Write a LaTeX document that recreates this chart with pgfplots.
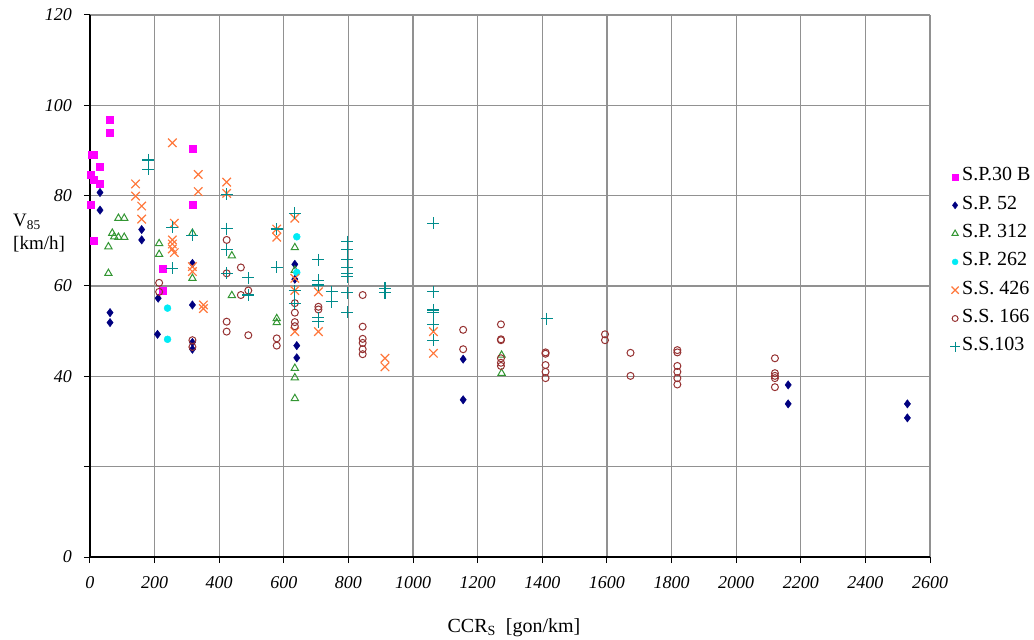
\documentclass[border=0pt]{standalone}
\usepackage{fontspec}
\setmainfont{Liberation Serif}
\usepackage{pgfplots}
\pgfplotsset{compat=1.18}

\definecolor{cMag}{RGB}{255,0,255}
\definecolor{cNavy}{RGB}{0,0,128}
\definecolor{cGreen}{RGB}{51,150,51}
\definecolor{cCyan}{RGB}{0,235,245}
\definecolor{cOrange}{RGB}{255,120,60}
\definecolor{cBrown}{RGB}{150,50,50}
\definecolor{cTeal}{RGB}{0,140,140}
\definecolor{gridgray}{RGB}{145,145,145}

\begin{document}
\begin{tikzpicture}
\useasboundingbox (-90pt,-83pt) rectangle (944pt,557pt);
\begin{axis}[
  at={(0,0)}, anchor=south west,
  scale only axis, width=840pt, height=542pt,
  xmin=0, xmax=2600, ymin=0, ymax=120,
  xtick={0,200,...,2600}, ytick={0,20,...,120},
  yticklabels={0,,40,60,80,100,120},
  grid=major, major grid style={draw=gridgray, line width=1.2pt},
  axis x line=bottom, axis y line=left,
  axis line style={-, black, line width=1.4pt},
  tick align=outside, major tick length=6pt,
  tick style={black, line width=1pt},
  /pgf/number format/assume math mode=true,
  /pgf/number format/1000 sep={},
  xticklabel style={font=\fontsize{18}{20}\selectfont\itshape, inner sep=0pt, yshift=-13pt},
  yticklabel style={font=\fontsize{18}{20}\selectfont\itshape, inner sep=0pt, xshift=-12pt},
  xlabel={CCR\textsubscript{S}\ \ [gon/km]},
  every axis x label/.style={at={(axis description cs:0.5,0)}, anchor=center, yshift=-71pt, xshift=4pt,
    font=\fontsize{20}{22}\selectfont},
  ylabel={V\textsubscript{85}\\{[km/h]}},
  every axis y label/.style={at={(axis description cs:0,0.597)}, anchor=west, xshift=-77pt,
    align=left, inner sep=0pt, font=\fontsize{19}{23}\selectfont},
  legend cell align=left,
  legend style={at={(axis description cs:1,1)}, anchor=north west, xshift=20pt, yshift=-154pt,
    draw=none, fill=none, inner sep=0pt, outer sep=0pt, row sep=12.3pt, column sep=2pt,
    font=\fontsize{20}{22}\selectfont,
    nodes={inner sep=0pt, text height=12pt, text depth=4pt}},
  legend image code/.code={\path[draw=none, fill=none] (-5pt,-6pt) rectangle (5pt,6pt);
    \draw[#1, every mark/.append style={scale=0.85}] plot coordinates {(0pt,0pt)};},
]
% S.P.30 B
\addplot[only marks, mark=square*, mark size=3.5pt, mark options={fill=cMag, draw=cMag}] coordinates {
(62,96.9)(62,93.9)(5,89)(12,89)(31,86.4)(3,84.7)(10,83.6)(31,82.6)(3,78.1)(10,70.0)
(317,90.3)(317,78.1)(225,63.9)(225,58.9)};
\addlegendentry{S.P.30 B}
% S.P. 52
\addplot[only marks, mark=diamond*, mark size=4.2pt, mark options={fill=cNavy, draw=cNavy}] coordinates {
(31,80.7)(31,76.8)(160,72.5)(160,70.2)(317,65.0)(211,57.3)(317,55.8)(62,54.1)(62,51.9)
(209,49.3)(317,47.5)(317,46.0)(634,64.8)(634,61.5)(640,46.8)(640,44.1)(1155,43.8)(1155,34.8)
(2161,38.1)(2161,33.9)(2530,33.9)(2530,30.8)};
\addlegendentry{S.P. 52}
% S.P. 312
\addplot[only marks, mark=triangle, mark size=4.2pt, mark options={draw=cGreen, line width=1pt}] coordinates {
(88,75.0)(106,75.0)(69,71.7)(75,70.9)(88,70.8)(106,70.8)(57,68.7)(57,62.8)(214,69.4)(214,67.0)
(317,71.7)(317,61.7)(439,66.7)(439,57.9)(578,52.8)(578,51.9)(634,68.5)(634,63.5)(634,41.8)
(634,39.7)(634,35.1)(1274,44.7)(1274,40.7)};
\addlegendentry{S.P. 312}
% S.P. 262
\addplot[only marks, mark=*, mark size=3.5pt, mark options={fill=cCyan, draw=cCyan}] coordinates {
(240,55.1)(240,48.2)(640,70.9)(640,63.0)};
\addlegendentry{S.P. 262}
% S.S. 426
\addplot[only marks, mark=x, mark size=6pt, mark options={draw=cOrange, line width=1.2pt}] coordinates {
(255,91.7)(335,84.7)(335,80.9)(141,82.6)(141,79.9)(160,77.7)(160,74.8)(261,73.9)(255,70.2)
(255,69.3)(261,67.4)(255,68.2)(317,64.3)(317,63.2)(351,55.8)(351,55.0)(423,83.0)(423,80.5)
(578,72.6)(578,70.8)(634,75.0)(634,61.7)(634,59.0)(634,49.9)(707,58.7)(707,49.9)(913,44.0)
(913,42.1)(1063,49.9)(1063,45.1)};
\addlegendentry{S.S. 426}
% S.S. 166
\addplot[only marks, mark=o, mark size=3.5pt, mark options={draw=cBrown, line width=1pt}] coordinates {
(214,60.7)(214,58.7)(317,48.0)(317,46.5)(423,70.2)(423,62.8)(423,52.1)(423,49.9)(467,64.1)
(467,58.0)(490,59.0)(490,49.1)(578,48.4)(578,46.8)(634,56.2)(634,54.1)(634,52.0)(634,51.1)
(707,55.4)(707,54.8)(844,58.0)(844,51.0)(844,48.3)(844,47.4)(844,46.0)(844,44.9)(1155,50.3)
(1155,46.0)(1272,51.5)(1272,48.2)(1272,48.0)(1272,44.0)(1272,43.0)(1272,42.3)(1410,45.3)
(1410,45.0)(1410,42.5)(1410,41.0)(1410,39.6)(1594,49.3)(1594,48.0)(1673,45.2)(1673,40.1)
(1818,45.8)(1818,45.3)(1818,42.3)(1818,41.0)(1818,39.6)(1818,38.2)(2120,44.0)(2120,40.7)
(2120,40.1)(2120,39.6)(2120,37.6)};
\addlegendentry{S.S. 166}
% S.S.103
\addplot[only marks, mark=+, mark size=6pt, mark options={draw=cTeal, line width=1.2pt}] coordinates {
(180,87.9)(180,85.8)(255,73.0)(255,63.9)(317,71.2)(423,80.3)(423,72.7)(423,68.0)(423,62.8)
(490,61.8)(490,58.0)(578,72.6)(578,64.1)(634,76.1)(634,59.0)(634,56.2)(707,65.8)(707,61.3)
(707,60.2)(707,53.0)(707,52.1)(748,58.7)(748,56.5)(796,69.8)(796,68.0)(796,65.8)(796,64.1)
(796,62.8)(796,62.1)(796,58.5)(796,54.2)(913,59.5)(913,58.5)(1063,73.9)(1063,58.7)(1063,54.7)
(1063,54.1)(1063,51.4)(1063,48.0)(1413,52.8)};
\addlegendentry{S.S.103}
\end{axis}
\end{tikzpicture}
\end{document}
